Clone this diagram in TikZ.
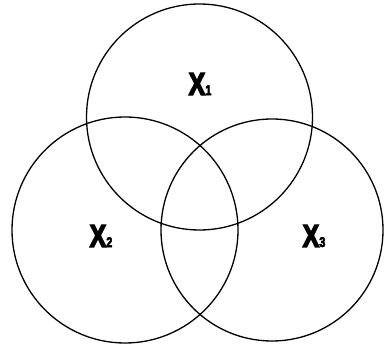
\documentclass[tikz,border=0pt]{standalone}
\usepackage{fontspec}
\setmainfont{Liberation Sans}
\newfontfamily\labfont{Liberation Sans}[UprightFont=*-Bold,FakeBold=4,FakeStretch=0.78]
\begin{document}
\begin{tikzpicture}[x=1pt,y=-1pt,
  setc/.style={draw=black,line width=1.3pt,circle,minimum size=226pt,inner sep=0pt},
  lab/.style={font=\labfont\fontsize{32}{32}\selectfont,inner sep=0pt}]
\useasboundingbox (0,0) rectangle (385,344);
\node[setc] (c1) at (199.5,117) {};
\node[setc] (c2) at (125,230) {};
\node[setc,minimum size=222pt] (c3) at (272,230) {};
\node[lab] (l1) at (200,84) {X\fontsize{14}{14}\selectfont 1};
\node[lab] (l2) at (101,236) {X\fontsize{14}{14}\selectfont 2};
\node[lab] (l3) at (314,236) {X\fontsize{14}{14}\selectfont 3};
\end{tikzpicture}
\end{document}
